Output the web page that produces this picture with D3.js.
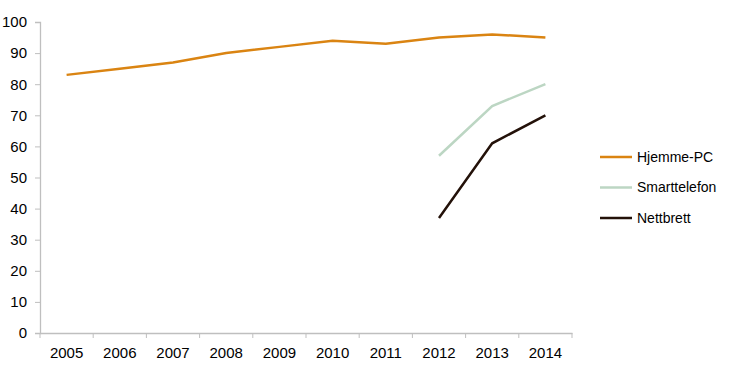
<!DOCTYPE html>
<html>
<head>
<meta charset="utf-8">
<script src="https://cdn.jsdelivr.net/npm/d3@7"></script>
<style>
  body { margin: 0; background: #fff; }
  svg text { font-family: "Liberation Sans", Arial, sans-serif; fill: #000; }
</style>
</head>
<body>
<script>
// data
var years = [2005, 2006, 2007, 2008, 2009, 2010, 2011, 2012, 2013, 2014];
var hjemmePC = [83, 85, 87, 90, 92, 94, 93, 95, 96, 95];
var smarttelefon = [null, null, null, null, null, null, null, 57, 73, 80];
var nettbrett = [null, null, null, null, null, null, null, 37, 61, 70];
var seriesNames = ['Hjemme-PC', 'Smarttelefon', 'Nettbrett'];
var seriesColors = ['#DA8412', '#BCD6C3', '#231109'];
var yTicks = [0, 10, 20, 30, 40, 50, 60, 70, 80, 90, 100];

var series = [hjemmePC, smarttelefon, nettbrett];

var margin = {top: 22, right: 158, bottom: 46, left: 40};

var x = d3.scaleBand()
    .domain(years)
    .range([0, 532]);

var y = d3.scaleLinear()
    .domain([0, 100])
    .range([311, 0]);

var svg = d3.select('body')
    .append('svg')
    .attr('width', 730)
    .attr('height', 379);

var main = svg.append('g')
    .attr('transform', 'translate(' + margin.left + ',' + margin.top + ')');

// y axis
var yAxis = main.append('g')
    .call(d3.axisLeft(y).tickValues(yTicks).tickSize(5).tickPadding(8));
yAxis.selectAll('text').style('font-size', '15px');

// x axis, ticks on band edges
var xAxis = main.append('g')
    .attr('transform', 'translate(0,' + y(0) + ')')
    .call(d3.axisBottom(x).tickSize(0).tickPadding(14));
xAxis.selectAll('text').style('font-size', '15px');
xAxis.selectAll('.tick line').remove();
xAxis.selectAll('.edge')
    .data(years.concat([null]))
    .enter().append('line')
    .attr('x1', function (d, i) { return i * x.step(); })
    .attr('x2', function (d, i) { return i * x.step(); })
    .attr('y1', 0)
    .attr('y2', 5)
    .attr('stroke', '#BFBFBF');

svg.selectAll('.domain').attr('stroke', '#BFBFBF').attr('stroke-width', 1.3);
yAxis.selectAll('.tick line').attr('stroke', '#BFBFBF');

var line = d3.line()
    .defined(function (d) { return d != null; })
    .x(function (d, i) { return x(years[i]) + x.bandwidth() / 2; })
    .y(function (d) { return y(d); });

main.selectAll('.series')
    .data(series)
    .enter().append('path')
    .attr('d', line)
    .attr('fill', 'none')
    .attr('stroke', function (d, i) { return seriesColors[i]; })
    .attr('stroke-width', 2.5);

// legend
var legend = svg.append('g')
    .attr('transform', 'translate(600,157)');

var item = legend.selectAll('g')
    .data(seriesNames)
    .enter().append('g')
    .attr('transform', function (d, i) { return 'translate(0,' + (i * 30.5) + ')'; });

item.append('line')
    .attr('x1', 0)
    .attr('x2', 32)
    .attr('stroke', function (d, i) { return seriesColors[i]; })
    .attr('stroke-width', 2.5);

item.append('text')
    .attr('x', 37)
    .attr('dy', '0.35em')
    .style('font-size', '14px')
    .text(function (d) { return d; });
</script>
</body>
</html>
